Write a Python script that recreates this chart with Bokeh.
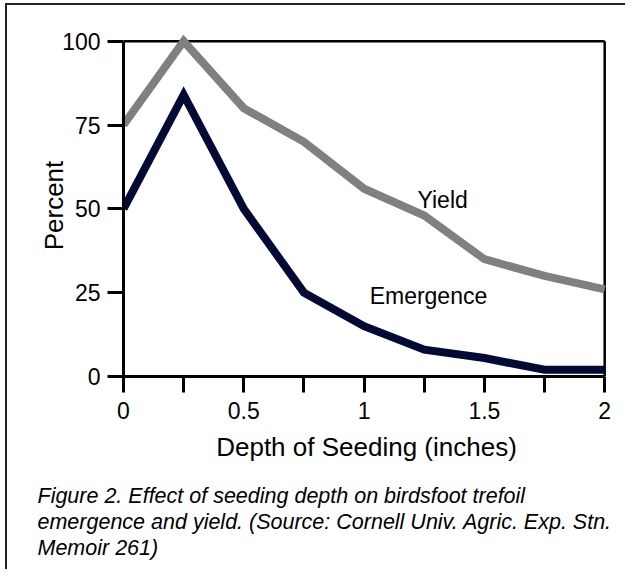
from bokeh.plotting import figure
from bokeh.models import FixedTicker, Label, Range1d, Title
from bokeh.embed import file_html
from bokeh.resources import INLINE

# ---- data ----
depth = [0, 0.25, 0.5, 0.75, 1.0, 1.25, 1.5, 1.75, 2.0]
yield_pct = [75, 100, 80, 70, 56, 48, 35, 30, 26]
emergence_pct = [50, 84, 50, 25, 15, 8, 5.5, 2, 2]

x_ticks = [0, 0.5, 1, 1.5, 2]
x_tick_labels = ["0", "0.5", "1", "1.5", "2"]
x_minor_ticks = [0.25, 0.75, 1.25, 1.75]
y_ticks = [0, 25, 50, 75, 100]
y_tick_labels = ["0", "25", "50", "75", "100"]

caption_lines = [
    "Figure 2. Effect of seeding depth on birdsfoot trefoil",
    "emergence and yield. (Source: Cornell Univ. Agric. Exp. Stn.",
    "Memoir 261)",
]

FONT = "Liberation Sans"
YIELD_COLOR = "#808080"
EMERG_COLOR = "#000a35"

X_END, Y_END = 2.02, 102
FRAME_W, FRAME_H = 486, 342
W, H = 620, 566
LEFT, TOP = 116, 29

p = figure(
    width=W, height=H,
    x_range=Range1d(0, X_END), y_range=Range1d(0, Y_END),
    output_backend="svg", toolbar_location=None,
    min_border_left=LEFT, min_border_right=W - LEFT - FRAME_W,
    min_border_top=TOP, min_border_bottom=H - TOP - FRAME_H,
)
p.styles = {
    "border-left": "2px solid #222",
    "border-top": "2px solid #222",
    "margin-left": "5px",
    "margin-top": "3px",
}
p.outline_line_color = None
p.grid.visible = False
p.background_fill_color = "white"
p.border_fill_color = "white"

# axes
p.xaxis.ticker = FixedTicker(ticks=x_ticks, minor_ticks=x_minor_ticks)
p.xaxis.major_label_overrides = {t: l for t, l in zip(x_ticks, x_tick_labels)}
p.yaxis.ticker = FixedTicker(ticks=y_ticks, minor_ticks=[])
p.yaxis.major_label_overrides = {t: l for t, l in zip(y_ticks, y_tick_labels)}
p.xaxis.bounds = (x_ticks[0], x_ticks[-1])
p.yaxis.bounds = (y_ticks[0], y_ticks[-1])

for ax in (p.xaxis, p.yaxis):
    ax.axis_line_width = 3
    ax.axis_line_color = "black"
    ax.major_tick_line_width = 3
    ax.major_tick_line_color = "black"
    ax.major_tick_in = 0
    ax.major_tick_out = 16
    ax.minor_tick_in = 0
    ax.minor_tick_out = 16
    ax.minor_tick_line_width = 3
    ax.minor_tick_line_color = "black"
    ax.major_label_text_font = FONT
    ax.major_label_text_font_size = "23px"
    ax.major_label_text_color = "black"
    ax.axis_label_text_font = FONT
    ax.axis_label_text_font_size = "26px"
    ax.axis_label_text_font_style = "normal"
    ax.axis_label_text_color = "black"

p.xaxis.axis_label = "Depth of Seeding (inches)"
p.yaxis.axis_label = "Percent"
p.xaxis.major_label_standoff = 9
p.yaxis.major_label_standoff = 7
p.xaxis.axis_label_standoff = 10
p.yaxis.axis_label_standoff = -10

# top and right frame lines
p.segment(
    x0=[x_ticks[0], x_ticks[-1]], y0=[y_ticks[-1], y_ticks[0]],
    x1=[x_ticks[-1], x_ticks[-1]], y1=[y_ticks[-1], y_ticks[-1]],
    line_width=2.5, line_color="black",
)

# series
p.line(depth, yield_pct, line_width=8, line_color=YIELD_COLOR,
       line_join="miter", line_cap="butt")
p.line(depth, emergence_pct, line_width=8, line_color=EMERG_COLOR,
       line_join="miter", line_cap="butt")

# series labels
p.add_layout(Label(x=1.222, y=52.5, text="Yield", text_font=FONT,
                   text_font_size="23px", text_color="black",
                   text_baseline="alphabetic"))
p.add_layout(Label(x=1.023, y=23.9, text="Emergence", text_font=FONT,
                   text_font_size="23px", text_color="black",
                   text_baseline="alphabetic"))

# spacer between axis label and caption
p.add_layout(Title(text=" ", text_font_size="4px", standoff=10), "below")

# caption as stacked titles below the axis
for line in caption_lines:
    p.add_layout(Title(text=line, align="left", offset=-86, standoff=0,
                       text_font=FONT, text_font_size="21.5px",
                       text_font_style="italic", text_color="black"),
                 "below")

open("out.html", "w").write(file_html(p, INLINE))
